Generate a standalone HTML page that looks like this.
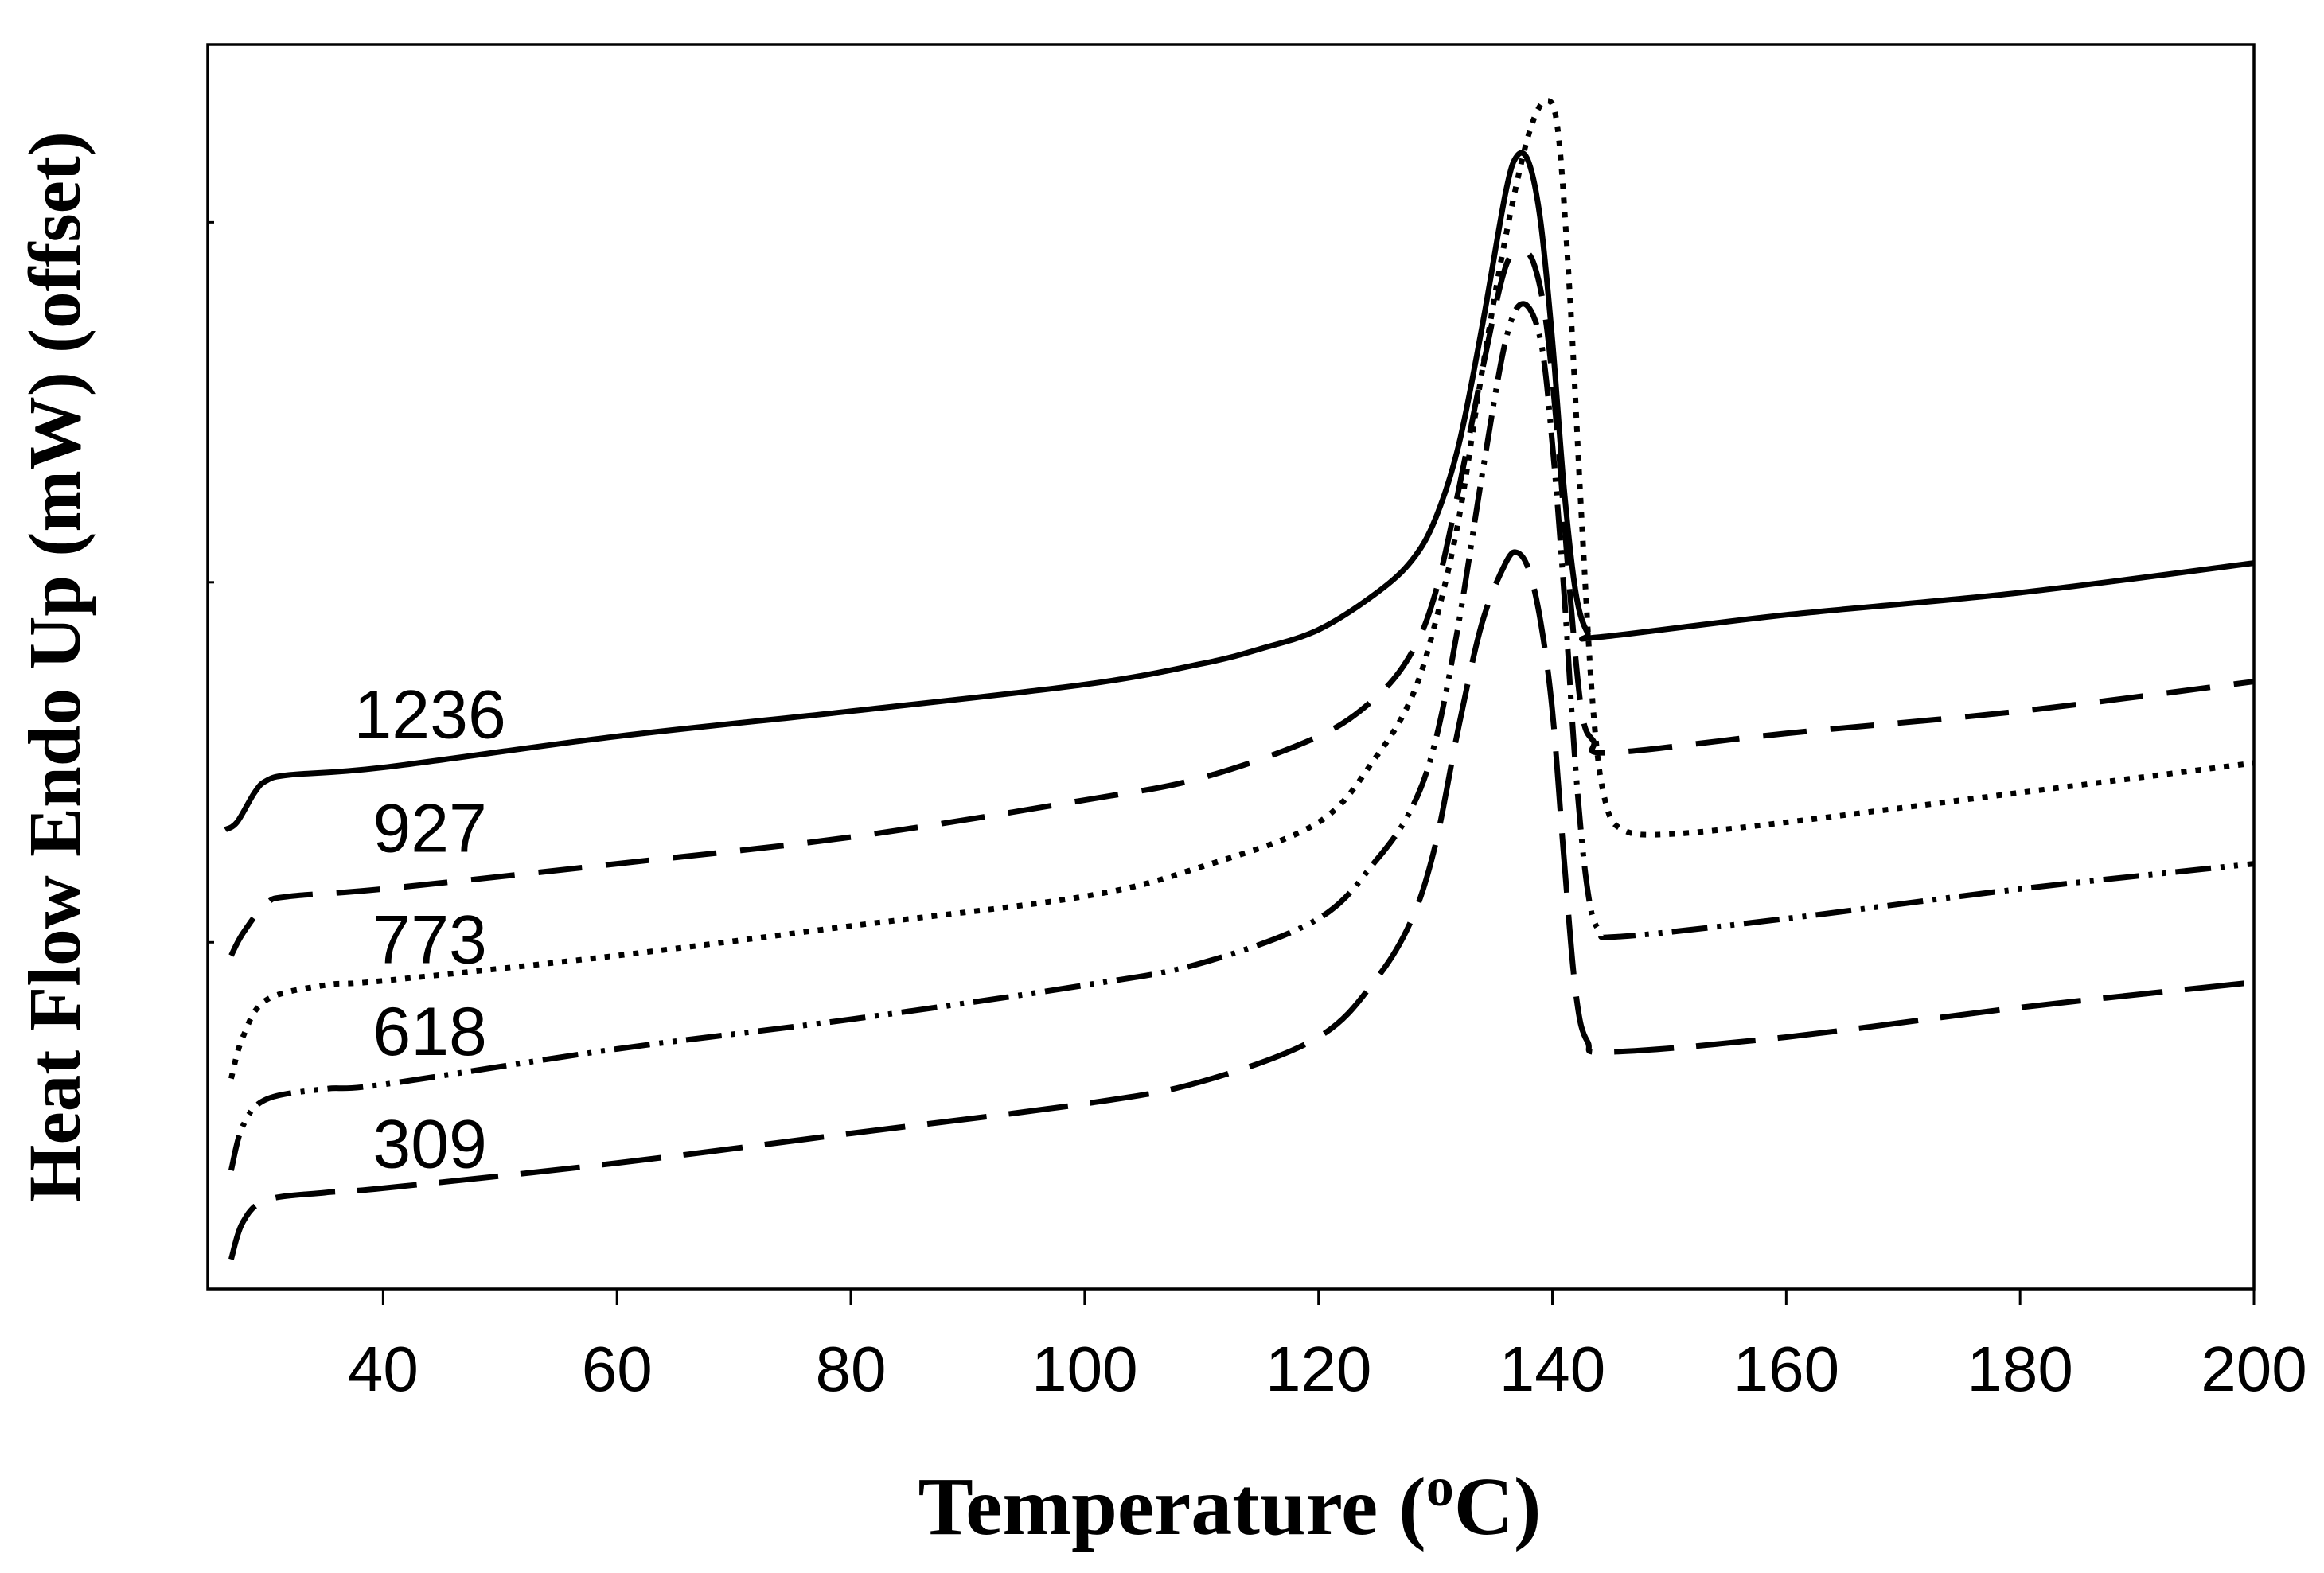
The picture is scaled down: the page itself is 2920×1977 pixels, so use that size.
<!DOCTYPE html>
<html><head><meta charset="utf-8"><style>
body{margin:0;background:#fff}
svg{display:block}
</style></head><body>
<svg id="chart" width="2920" height="1977" viewBox="0 0 2920 1977" xmlns="http://www.w3.org/2000/svg">
<rect x="261" y="56" width="2571" height="1564" fill="none" stroke="#000" stroke-width="3.5"/>
<g id="xticks"></g>
<g id="yticks"></g>
<g id="series"></g>
<g id="labels"></g>
<text x="1545" y="1928" text-anchor="middle" font-family="Liberation Serif, serif" font-weight="bold" font-size="104">Temperature (<tspan font-size="70" dy="-36">o</tspan><tspan dy="36">C)</tspan></text>
<text transform="translate(100,838) rotate(-90)" text-anchor="middle" font-family="Liberation Serif, serif" font-weight="bold" font-size="93">Heat Flow  Endo Up (mW) (offset)</text>
</svg>
<script>
const xTicks=[40,60,80,100,120,140,160,180,200];
const yTicks=[720,477,234];
const labelNames=["1236","927","773","618","309"];
const labelTemps=[44,44,44,44,44];
const labelVals=[372,295,220,158,82];
const t1236=[26.5,27.5,29,30,32,40,60,80,100,110,115,120,125,128,130,132,134,136,137,138,139,140,141,142,143,144,160,180,200];
const v1236=[310,315,335,343,347,352,373,390,408,422,432,445,470,492,520,570,650,740,765,760,720,640,540,470,443,440,455,470,490];
const t927=[27,28,30,32,40,60,80,100,110,120,125,128,130,132,134,136,137.5,138.5,139.5,140.5,141.5,142.5,143.5,145,160,180,200];
const v927=[225,240,260,265,270,287,305,330,345,373,400,430,470,540,620,690,700,690,650,570,470,390,370,362,375,390,410];
const t773=[27,28,30,35,40,60,80,100,110,120,125,128,130,132,134,136,138,139.5,140.5,141.5,142.5,143.5,144.5,146,150,160,180,200];
const v773=[142,170,195,205,208,225,245,265,285,315,360,400,450,520,620,710,780,802,780,670,520,390,330,310,307,315,335,355];
const t618=[27,28,30,35,40,60,80,100,110,120,125,128,130,132,134,136,137.5,139,140,141,142,143,144,146,160,180,200];
const v618=[80,110,128,135,138,162,182,205,220,250,290,325,370,450,550,640,665,640,570,470,350,270,242,238,250,270,287];
const t309=[27,28,30,35,40,60,80,100,110,120,125,128,130,132,134,136,137,138,139,140,141,142,143,145,160,180,200];
const v309=[20,45,60,65,68,85,105,125,140,170,210,250,300,380,450,490,497,485,450,390,290,200,167,160,170,190,207];

const X0=261,X1=2832,Y0=1620,TMIN=25,TMAX=200,K=1.862;
const xs=t=>X0+(t-TMIN)*(X1-X0)/(TMAX-TMIN);
const ys=v=>Y0-v*K;
const NS="http://www.w3.org/2000/svg";
function mk(tag,attrs,parent){const e=document.createElementNS(NS,tag);for(const k in attrs)e.setAttribute(k,attrs[k]);parent.appendChild(e);return e;}

const xg=document.getElementById('xticks');
xTicks.forEach(t=>{
  const l=mk('line',{x1:xs(t),x2:xs(t),y1:Y0,y2:Y0+20,stroke:'#000','stroke-width':3},xg);
  
  
  const tx=mk('text',{x:xs(t),y:Y0+128,'text-anchor':'middle','font-family':'Liberation Sans, sans-serif','font-size':80},xg);
  
  
  tx.textContent=t;
});
const yg=document.getElementById('yticks');
yTicks.forEach(v=>{
  const l=mk('line',{x1:X0,x2:X0+8,y1:ys(v),y2:ys(v),stroke:'#000','stroke-width':3},yg);
  
  
});

function path(ts,vs){
  const p=ts.map((t,i)=>[xs(t),ys(vs[i])]);
  let d='M'+p[0][0]+','+p[0][1];
  for(let i=0;i<p.length-1;i++){
    const a=p[Math.max(0,i-1)],b=p[i],c=p[i+1],e=p[Math.min(p.length-1,i+2)];
    const c1=[b[0]+(c[0]-a[0])/6,b[1]+(c[1]-a[1])/6],c2=[c[0]-(e[0]-b[0])/6,c[1]-(e[1]-b[1])/6];
    d+=' C'+c1[0]+','+c1[1]+' '+c2[0]+','+c2[1]+' '+c[0]+','+c[1];
  }
  return d;
}
const sg=document.getElementById('series');
const defs=[[t1236,v1236,'none','curve-1236'],[t927,v927,'55 30','curve-927'],[t773,v773,'7 11','curve-773'],[t618,v618,'45 12 5 12 5 12','curve-618'],[t309,v309,'75 28','curve-309']];
defs.forEach(s=>{
  const p=mk('path',{d:path(s[0],s[1]),fill:'none',stroke:'#000','stroke-width':7,'stroke-dasharray':s[2]},sg);
  
  
});
const lg=document.getElementById('labels');
labelNames.forEach((n,i)=>{
  const tx=mk('text',{x:xs(labelTemps[i]),y:ys(labelVals[i]),'text-anchor':'middle','font-family':'Liberation Sans, sans-serif','font-size':86},lg);
  
  
  tx.textContent=n;
});
</script>
</body></html>
